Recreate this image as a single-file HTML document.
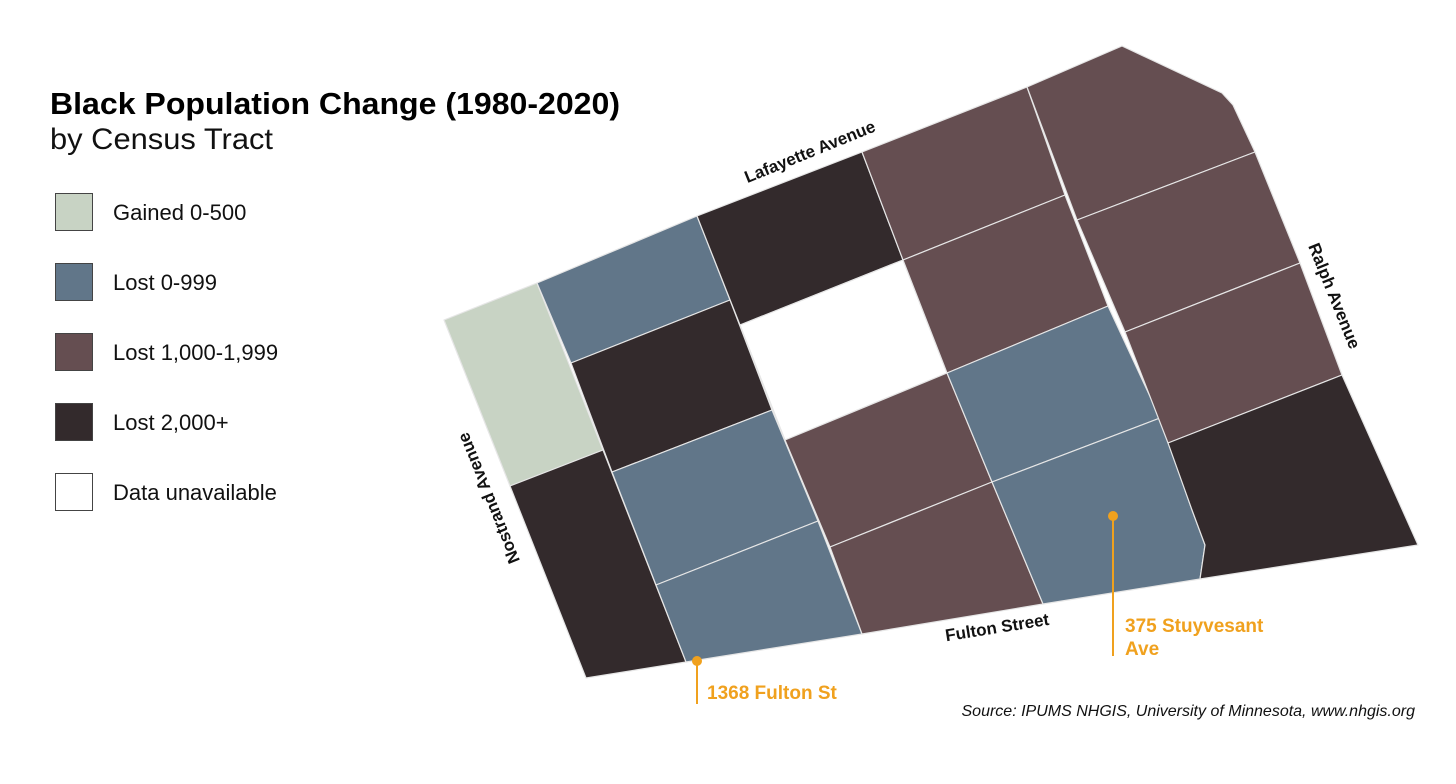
<!DOCTYPE html>
<html><head><meta charset="utf-8">
<style>
html,body{margin:0;padding:0;background:#fff;}
body{width:1456px;height:779px;overflow:hidden;font-family:"Liberation Sans",Arial,sans-serif;}
svg text{font-family:"Liberation Sans",Arial,sans-serif;}
</style></head>
<body>
<svg id="map" width="1456" height="779" viewBox="0 0 1456 779">
  <text x="50" y="114" font-size="31" font-weight="bold" fill="#000" textLength="570" lengthAdjust="spacingAndGlyphs">Black Population Change (1980-2020)</text>
  <text x="50" y="149" font-size="30" fill="#111" textLength="223" lengthAdjust="spacingAndGlyphs">by Census Tract</text>
  <g id="legend"></g>
  <g id="tracts"></g>
  <g font-size="17" font-weight="bold" fill="#111">
    <text transform="translate(812,157) rotate(-22)" text-anchor="middle">Lafayette Avenue</text>
    <text transform="translate(494,496) rotate(-112)" text-anchor="middle">Nostrand Avenue</text>
    <text transform="translate(1329,298) rotate(68)" text-anchor="middle">Ralph Avenue</text>
    <text transform="translate(998,633) rotate(-9)" text-anchor="middle">Fulton Street</text>
  </g>
  <g fill="#f0a11e" font-size="19" font-weight="bold">
    <line x1="697" y1="661" x2="697" y2="704" stroke="#f0a11e" stroke-width="2"/>
    <circle cx="697" cy="661" r="5"/>
    <text x="707" y="699">1368 Fulton St</text>
    <line x1="1113" y1="516" x2="1113" y2="656" stroke="#f0a11e" stroke-width="2"/>
    <circle cx="1113" cy="516" r="5"/>
    <text x="1125" y="632">375 Stuyvesant</text>
    <text x="1125" y="655">Ave</text>
  </g>
  <text x="1415" y="716" text-anchor="end" font-size="16" font-style="italic" fill="#111">Source: IPUMS NHGIS, University of Minnesota, www.nhgis.org</text>
</svg>
<script>
const categories = ["Gained 0-500","Lost 0-999","Lost 1,000-1,999","Lost 2,000+","Data unavailable"];
const colors = ["#c8d3c4","#617689","#654e51","#332a2c","#ffffff"];
// category index per tract (in order of tractShapes below)
const tractCategory = [0,3, 1,3,1,1, 3,4,2,2, 2,2,1,1, 2,2,2,3];
const tractShapes = [
  "444,320 537,283 603,450 510,486",
  "510,486 603,450 686,662 586,678",
  "537,283 697,216 730,300 571,363",
  "571,363 730,300 772,410 612,472",
  "612,472 772,410 818,521 656,585",
  "656,585 818,521 862,634 686,662",
  "697,216 862,152 903,260 740,325",
  "740,325 903,260 947,373 785,440",
  "785,440 947,373 992,482 830,547",
  "830,547 992,482 1043,604 862,634",
  "862,152 1027,87 1065,195 903,260",
  "903,260 1065,195 1108,306 947,373",
  "947,373 1108,306 1160,418 992,482",
  "992,482 1160,418 1192,510 1205,545 1200,579 1043,604",
  "1027,87 1122,46 1222,93 1233,105 1255,152 1077,220",
  "1077,220 1255,152 1300,263 1125,332",
  "1125,332 1300,263 1342,375 1168,443",
  "1168,443 1342,375 1418,545 1200,579 1205,545 1192,510"
];
const NS = "http://www.w3.org/2000/svg";
const tg = document.getElementById('tracts');
tractShapes.forEach((pts, i) => {
  const p = document.createElementNS(NS, 'polygon');
  p.setAttribute('points', pts);
  p.setAttribute('fill', colors[tractCategory[i]]);
  p.setAttribute('stroke', '#e6e6e6');
  p.setAttribute('stroke-width', '1.2');
  p.setAttribute('stroke-linejoin', 'round');
  
  
  tg.appendChild(p);
});
const lg = document.getElementById('legend');
categories.forEach((c, i) => {
  const y = 193 + i * 70;
  const r = document.createElementNS(NS, 'rect');
  r.setAttribute('x', 55.5); r.setAttribute('y', y + 0.5);
  r.setAttribute('width', 37); r.setAttribute('height', 37);
  r.setAttribute('fill', colors[i]);
  r.setAttribute('stroke', '#444'); r.setAttribute('stroke-width', '1');
  
  
  lg.appendChild(r);
  const t = document.createElementNS(NS, 'text');
  t.setAttribute('x', 113); t.setAttribute('y', y + 27);
  t.setAttribute('font-size', '22'); t.setAttribute('fill', '#111');
  t.textContent = c;
  
  
  lg.appendChild(t);
});
</script>
</body></html>
